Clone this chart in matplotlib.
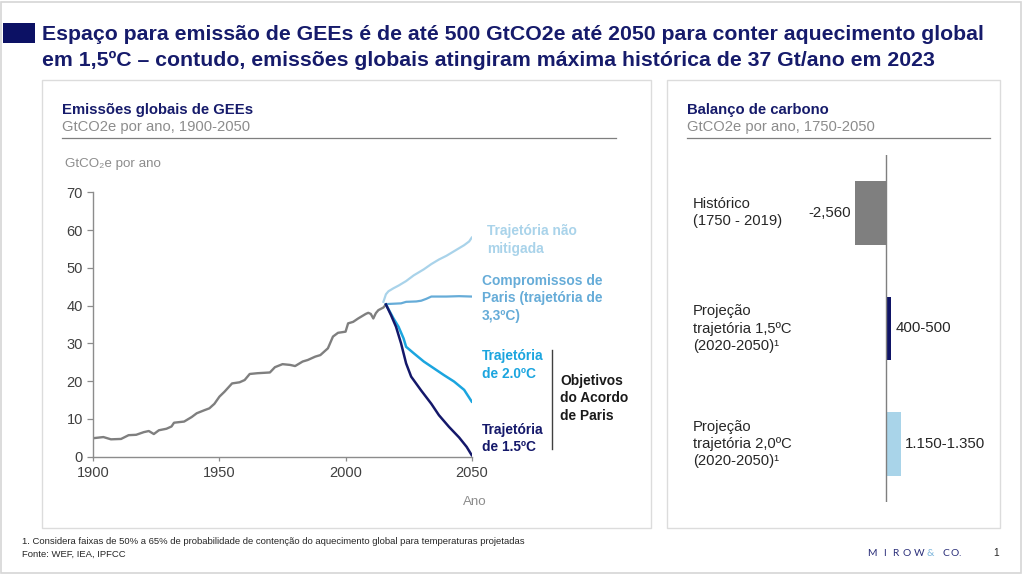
import matplotlib
matplotlib.use("Agg")
import matplotlib.pyplot as plt
from matplotlib.patches import Rectangle
from matplotlib.lines import Line2D

plt.rcParams['font.family'] = ['Liberation Sans', 'DejaVu Sans']

# ---------------- data ----------------
hist_years = [1900, 1904, 1907, 1911, 1914, 1917, 1920, 1922, 1924, 1926, 1929, 1931, 1932,
              1936, 1939, 1941, 1944, 1946, 1948, 1950, 1952, 1955, 1958, 1960, 1962, 1965,
              1970, 1972, 1975, 1978, 1980, 1983, 1985, 1988, 1990, 1993, 1995, 1997, 2000,
              2001, 2003, 2005, 2008, 2009, 2010, 2011, 2012, 2013, 2015, 2016]
hist_vals = [4.9, 5.2, 4.6, 4.7, 5.7, 5.8, 6.5, 6.8, 6.0, 7.0, 7.4, 8.0, 9.0,
             9.3, 10.5, 11.5, 12.3, 12.8, 14.0, 15.9, 17.2, 19.4, 19.7, 20.3, 21.9, 22.1,
             22.3, 23.7, 24.5, 24.3, 24.0, 25.2, 25.6, 26.5, 26.9, 28.7, 31.8, 32.8, 33.1,
             35.3, 35.7, 36.6, 37.8, 38.1, 37.8, 36.6, 38.0, 38.8, 39.5, 40.3]

unmit_years = [2015, 2016, 2017, 2019, 2021, 2024, 2027, 2031, 2034, 2037, 2040, 2044, 2047, 2049, 2050]
unmit_vals = [41.0, 43.0, 43.8, 44.6, 45.3, 46.5, 48.0, 49.6, 51.0, 52.2, 53.2, 54.8, 56.0, 57.0, 58.0]

paris_years = [2016, 2019, 2022, 2024, 2028, 2030, 2032, 2034, 2040, 2045, 2050]
paris_vals = [40.4, 40.5, 40.6, 41.0, 41.1, 41.3, 41.8, 42.4, 42.4, 42.5, 42.4]

p20_years = [2016, 2019, 2021, 2023, 2024, 2027, 2031, 2035, 2039, 2043, 2047, 2050]
p20_vals = [40.3, 36.6, 34.4, 31.3, 29.1, 27.4, 25.2, 23.4, 21.6, 19.9, 17.7, 14.6]

p15_years = [2016, 2018, 2020, 2022, 2024, 2026, 2030, 2034, 2037, 2041, 2045, 2048, 2050]
p15_vals = [40.3, 37.5, 34.4, 30.0, 24.7, 21.2, 17.5, 14.0, 11.0, 7.9, 5.1, 2.6, 0.4]

y_ticks = [0, 10, 20, 30, 40, 50, 60, 70]
x_ticks = [1900, 1950, 2000, 2050]

balance_labels = ["Histórico\n(1750 - 2019)",
                  "Projeção\ntrajetória 1,5ºC\n(2020-2050)¹",
                  "Projeção\ntrajetória 2,0ºC\n(2020-2050)¹"]
balance_values = [-2560, 450, 1250]
balance_texts = ["-2,560", "400-500", "1.150-1.350"]

# ---------------- colours ----------------
NAVY = '#161b6b'
GRAY_LINE = '#7f7f7f'
C_UNMIT = '#a9d3ea'
C_PARIS = '#66acd8'
C_20 = '#1ba5df'
C_15 = '#14186a'
TXT_GRAY = '#8c8c8c'
BOX = '#dcdcdc'

W, H = 1024, 577
fig = plt.figure(figsize=(W / 100, H / 100), dpi=100)
fig.patch.set_facecolor('white')


def fx(x):
    return x / W


def fy(y):
    return 1 - y / H


def rect_px(x0, y0, x1, y1, **kw):
    fig.add_artist(Rectangle((fx(x0), fy(y1)), fx(x1) - fx(x0), fy(y0) - fy(y1),
                             transform=fig.transFigure, fill=False, **kw))


def hline_px(x0, x1, y, **kw):
    fig.add_artist(Line2D([fx(x0), fx(x1)], [fy(y), fy(y)], transform=fig.transFigure, **kw))


def vline_px(x, y0, y1, **kw):
    fig.add_artist(Line2D([fx(x), fx(x)], [fy(y0), fy(y1)], transform=fig.transFigure, **kw))


def text_px(x, y, s, **kw):
    fig.text(fx(x), fy(y), s, **kw)


# outer frame
rect_px(1, 2, 1021, 573, edgecolor='#d6d6d6', linewidth=1.2)

# title
fig.add_artist(Rectangle((fx(3), fy(43)), fx(32), fy(23) - fy(43), transform=fig.transFigure,
                         facecolor='#0c1164', edgecolor='none'))
text_px(42, 35, "Espaço para emissão de GEEs é de até 500 GtCO2e até 2050 para conter aquecimento global",
        fontsize=15.3, fontweight='bold', color=NAVY, va='center', ha='left')
text_px(42, 60, "em 1,5ºC – contudo, emissões globais atingiram máxima histórica de 37 Gt/ano em 2023",
        fontsize=15.3, fontweight='bold', color=NAVY, va='center', ha='left')

# panels
rect_px(42, 80, 651, 528, edgecolor=BOX, linewidth=1.0)
rect_px(667, 80, 1000, 528, edgecolor=BOX, linewidth=1.0)

# left panel headers
text_px(62, 110, "Emissões globais de GEEs", fontsize=10.7, fontweight='bold', color=NAVY, va='center')
text_px(62, 127, "GtCO2e por ano, 1900-2050", fontsize=10.6, color=TXT_GRAY, va='center')
hline_px(62, 616, 137.5, color='#7f7f7f', linewidth=0.9)

# right panel headers
text_px(687, 110, "Balanço de carbono", fontsize=10.7, fontweight='bold', color=NAVY, va='center')
text_px(687, 127, "GtCO2e por ano, 1750-2050", fontsize=10.6, color=TXT_GRAY, va='center')
hline_px(687, 990, 138, color='#7f7f7f', linewidth=0.9)

# ---------------- line chart ----------------
ax = fig.add_axes([fx(93.3), fy(456.7), fx(471.7) - fx(93.3), fy(192.3) - fy(456.7)])
ax.plot(hist_years, hist_vals, color=GRAY_LINE, linewidth=1.7, solid_joinstyle='round')
ax.plot(unmit_years, unmit_vals, color=C_UNMIT, linewidth=1.6)
ax.plot(paris_years, paris_vals, color=C_PARIS, linewidth=1.6)
ax.plot(p20_years, p20_vals, color=C_20, linewidth=1.8)
ax.plot(p15_years, p15_vals, color=C_15, linewidth=1.8)
ax.set_xlim(1900, 2050)
ax.set_ylim(0, 70)
ax.set_xticks(x_ticks)
ax.set_yticks(y_ticks)
ax.tick_params(axis='both', colors='#8c8c8c', labelcolor='#404040', labelsize=10.5, length=4, width=0.9)
ax.tick_params(axis='x', length=3, pad=4)
for s in ['top', 'right']:
    ax.spines[s].set_visible(False)
for s in ['left', 'bottom']:
    ax.spines[s].set_color('#8c8c8c')
    ax.spines[s].set_linewidth(1.0)
ax.set_facecolor('none')

text_px(65, 164, "GtCO₂e por ano", fontsize=9.6, color=TXT_GRAY, va='center')
text_px(475, 502, "Ano", fontsize=9.6, color=TXT_GRAY, va='center', ha='center')

# annotations
ann = dict(fontsize=9.9, fontweight='bold', va='center', ha='left', linespacing=1.3)
text_px(487, 240, "Trajetória não\nmitigada", color=C_UNMIT, **ann)
text_px(482, 298.3, "Compromissos de\nParis (trajetória de\n3,3ºC)", color=C_PARIS, **ann)
text_px(482, 365, "Trajetória\nde 2.0ºC", color=C_20, **ann)
text_px(482, 438.5, "Trajetória\nde 1.5ºC", color=C_15, **ann)
vline_px(551.7, 350, 448.5, color='#404040', linewidth=1.0)
text_px(560, 398.3, "Objetivos\ndo Acordo\nde Paris", color='#1a1a1a', **ann)

# ---------------- bar chart ----------------
s_px = 31 / 2560.0  # pixels per unit
zx = 886
axL, axR = 700, 995
bx = fig.add_axes([fx(axL), fy(502), fx(axR) - fx(axL), fy(155) - fy(502)])
bx.set_xlim(-(zx - axL) / s_px, (axR - zx) / s_px)
bx.set_ylim(2.5, -0.5)
bar_colors = ['#7f7f7f', '#0f1466', '#a9d4e9']
pos = list(range(len(balance_values)))
bx.barh(pos, balance_values, height=0.55, color=bar_colors, edgecolor='none', zorder=2)
bx.axvline(0, color='#7f7f7f', linewidth=1.0, zorder=3)
bx.axis('off')
bx.set_facecolor('none')
for p, v, t in zip(pos, balance_values, balance_texts):
    if v < 0:
        bx.text(v - 4 / s_px, p, t, ha='right', va='center', fontsize=10.8, color='#262626')
    else:
        bx.text(v + 4 / s_px, p, t, ha='left', va='center', fontsize=10.8, color='#262626')
for p, lab in zip(pos, balance_labels):
    bx.text(-(zx - 693) / s_px, p, lab, ha='left', va='center', fontsize=10.6, color='#262626',
            linespacing=1.3)

# ---------------- footer ----------------
text_px(22, 541, "1. Considera faixas de 50% a 65% de probabilidade de contenção do aquecimento global para temperaturas projetadas",
        fontsize=6.8, color='#262626', va='center')
text_px(22, 554, "Fonte: WEF, IEA, IPFCC", fontsize=6.8, color='#262626', va='center')

logo_chars = list("MIROW&CO.")
logo_x = [871.5, 885, 895.7, 906.7, 919.5, 930, 945.7, 954.7, 959.5]
for ch, cx in zip(logo_chars, logo_x):
    col = '#7fb6dc' if ch == '&' else '#2b2f7a'
    text_px(cx, 553.3, ch, fontsize=7.4, color=col, va='center', ha='center', family=['Lato', 'DejaVu Sans'])
text_px(996, 553, "1", fontsize=7.4, color='#262626', va='center', ha='center')

fig.savefig('out.png', dpi=100, facecolor='white')
